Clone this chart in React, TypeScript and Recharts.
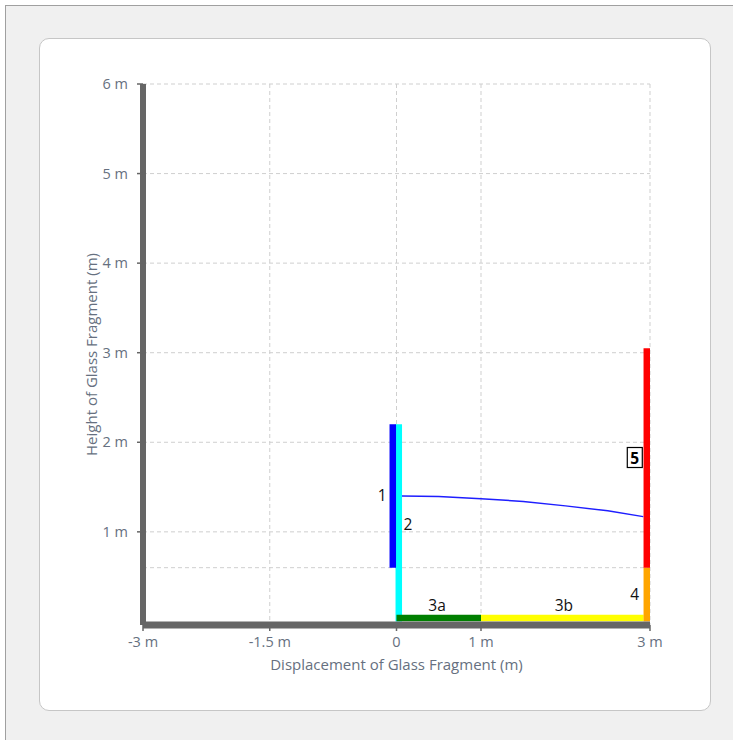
import React from 'react';
import {
  ComposedChart,
  Line,
  XAxis,
  YAxis,
  CartesianGrid,
  ReferenceLine,
  ReferenceDot,
} from 'recharts';

// ---- tick labels / axes ----
const xTicks = [-3, -1.5, 0, 1, 3];
const yTicks = [1, 2, 3, 4, 5, 6];
const xDomain = [-3, 3];
const yDomain = [-0.04, 6];
const extraGridY = 0.6;

// ---- fragment segments (x, y in metres) ----
const segment1 = [
  { x: -0.044, y: 0.6 },
  { x: -0.044, y: 2.2 },
];
const segment2 = [
  { x: 0.027, y: 0.0 },
  { x: 0.027, y: 2.2 },
];
const segment3a = [
  { x: 0.0, y: 0.038 },
  { x: 1.0, y: 0.038 },
];
const segment3b = [
  { x: 1.0, y: 0.038 },
  { x: 2.925, y: 0.038 },
];
const segment4 = [
  { x: 2.962, y: 0.0 },
  { x: 2.962, y: 0.6 },
];
const segment5 = [
  { x: 2.962, y: 0.6 },
  { x: 2.962, y: 3.05 },
];

// ---- trajectory of the glass fragment ----
const trajectoryX = [0.065, 0.5, 1.0, 1.5, 2.0, 2.5, 2.92];
const trajectoryY = [1.4, 1.395, 1.37, 1.34, 1.29, 1.235, 1.17];
const trajectory = trajectoryX.map((x, i) => ({ x, y: trajectoryY[i] }));

// ---- segment labels ----
const labelNames = ['1', '2', '3a', '3b', '4', '5'];
const labelX = [-0.17, 0.135, 0.48, 1.98, 2.82, 2.82];
const labelY = [1.41, 1.09, 0.18, 0.18, 0.31, 1.83];

const tickColor = '#667080';
const axisColor = '#666666';
const gridColor = '#cfcfcf';
const font = '"Open Sans", "Noto Sans", sans-serif';

const fmt = (v: number) => (v === 0 ? '0' : `${v} m`);

const PlainLabel = (text: string) => (p: any) => (
  <text
    x={p.cx}
    y={p.cy}
    textAnchor="middle"
    dominantBaseline="central"
    fontSize={15.5}
    fontFamily={font}
    fill="#111"
  >
    {text}
  </text>
);

const BoxLabel = (text: string) => (p: any) => (
  <g>
    <rect
      x={p.cx - 7.5}
      y={p.cy - 10}
      width={15}
      height={20}
      fill="#fff"
      stroke="#000"
      strokeWidth={1.2}
    />
    <text
      x={p.cx}
      y={p.cy + 0.5}
      textAnchor="middle"
      dominantBaseline="central"
      fontSize={15.5}
      fontWeight="bold"
      fontFamily={font}
      fill="#000"
    >
      {text}
    </text>
  </g>
);

const segLine = (data: any[], color: string, key: string) => (
  <Line
    key={key}
    data={data}
    dataKey="y"
    stroke={color}
    strokeWidth={6.5}
    dot={false}
    activeDot={false}
    isAnimationActive={false}
    legendType="none"
  />
);

export default function App() {
  return (
    <div
      style={{
        position: 'absolute',
        left: 0,
        top: 0,
        width: 733,
        height: 740,
        background: '#fff',
        overflow: 'hidden',
      }}
    >
      <div
        style={{
          position: 'absolute',
          left: 5,
          top: 5,
          width: 740,
          height: 745,
          background: '#f0f0f0',
          borderLeft: '1px solid #a0a0a0',
          borderTop: '1px solid #a0a0a0',
        }}
      />
      <div
        style={{
          position: 'absolute',
          left: 39,
          top: 38,
          width: 670,
          height: 671,
          background: '#fff',
          border: '1px solid #c6c6c6',
          borderRadius: 10,
        }}
      />
      <div style={{ position: 'absolute', left: 0, top: 0 }}>
        <ComposedChart
          width={733}
          height={740}
          margin={{ top: 84, right: 83, left: 41, bottom: 36 }}
        >
          <CartesianGrid stroke={gridColor} strokeDasharray="4 3" />
          <ReferenceLine
            y={extraGridY}
            stroke={gridColor}
            strokeDasharray="4 3"
          />
          <XAxis
            type="number"
            dataKey="x"
            domain={xDomain}
            ticks={xTicks}
            allowDataOverflow
            tickFormatter={fmt}
            axisLine={{ stroke: axisColor, strokeWidth: 7 }}
            tickLine={{ stroke: axisColor, strokeWidth: 1.5 }}
            tickSize={6}
            tickMargin={6}
            height={79}
            tick={{ fill: tickColor, fontSize: 14.5, fontFamily: font }}
            label={{
              value: 'Displacement of Glass Fragment (m)',
              position: 'center',
              fill: tickColor,
              fontSize: 15,
              fontFamily: font,
            }}
          />
          <YAxis
            type="number"
            dataKey="y"
            domain={yDomain}
            ticks={yTicks}
            allowDataOverflow
            tickFormatter={fmt}
            axisLine={{ stroke: axisColor, strokeWidth: 6 }}
            tickLine={{ stroke: axisColor, strokeWidth: 1.5 }}
            tickSize={6}
            tickMargin={9}
            width={102}
            tick={{ fill: tickColor, fontSize: 14.5, fontFamily: font }}
            label={{
              value: 'Height of Glass Fragment (m)',
              position: 'center',
              angle: -90,
              fill: tickColor,
              fontSize: 15,
              fontFamily: font,
            }}
          />
          {segLine(segment2, '#00ffff', 's2')}
          {segLine(segment1, '#0000ff', 's1')}
          {segLine(segment3a, '#007f00', 's3a')}
          {segLine(segment3b, '#ffff00', 's3b')}
          {segLine(segment4, '#ffa500', 's4')}
          {segLine(segment5, '#ff0000', 's5')}
          <Line
            data={trajectory}
            dataKey="y"
            stroke="#1e1eff"
            strokeWidth={1.5}
            dot={false}
            activeDot={false}
            isAnimationActive={false}
            legendType="none"
          />
          {labelNames.map((name, i) => (
            <ReferenceDot
              key={name}
              x={labelX[i]}
              y={labelY[i]}
              r={1}
              ifOverflow="visible"
              shape={name === '5' ? BoxLabel(name) : PlainLabel(name)}
            />
          ))}
        </ComposedChart>
      </div>
    </div>
  );
}
